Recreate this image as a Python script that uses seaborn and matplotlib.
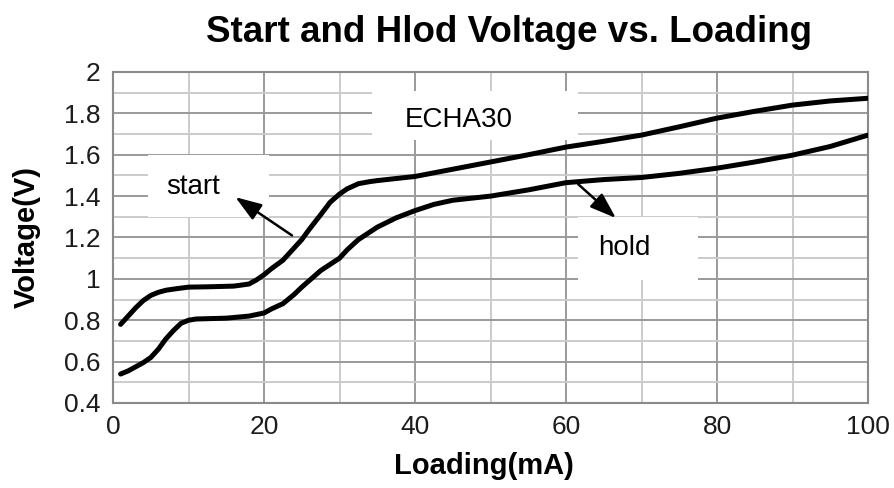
import numpy as np
import pandas as pd
import matplotlib
matplotlib.use("Agg")
import matplotlib.pyplot as plt
import seaborn as sns
from matplotlib.patches import Rectangle
from matplotlib.ticker import MultipleLocator

# ---------------- DATA ----------------
start_x = [1, 2, 3, 4, 5, 6, 7, 8.5, 10, 13, 16, 18, 19, 20, 21, 22.5, 24, 25,
           26, 27.5, 28.75, 30, 31, 32.5, 34, 35, 37.5, 40, 45, 50, 55, 60, 65,
           70, 75, 80, 85, 90, 95, 100]
start_v = [0.78, 0.82, 0.86, 0.895, 0.92, 0.935, 0.945, 0.953, 0.96, 0.962,
           0.965, 0.975, 0.995, 1.02, 1.05, 1.09, 1.15, 1.19, 1.24, 1.31, 1.37,
           1.41, 1.435, 1.46, 1.47, 1.475, 1.485, 1.495, 1.53, 1.565, 1.60,
           1.637, 1.665, 1.695, 1.735, 1.777, 1.81, 1.84, 1.86, 1.873]

hold_x = [1, 2, 3, 4, 5, 6, 7, 8, 9, 10, 11, 13, 15, 18, 20, 21, 22.5, 24, 25,
          27.5, 30, 31, 32.5, 35, 37.5, 40, 42.5, 45, 50, 55, 60, 65, 70, 75,
          80, 85, 90, 95, 100]
hold_v = [0.54, 0.555, 0.575, 0.595, 0.62, 0.66, 0.71, 0.75, 0.785, 0.80, 0.806,
          0.808, 0.81, 0.82, 0.835, 0.855, 0.88, 0.925, 0.96, 1.04, 1.10, 1.14,
          1.19, 1.25, 1.295, 1.33, 1.36, 1.38, 1.40, 1.43, 1.465, 1.48, 1.49,
          1.51, 1.535, 1.565, 1.598, 1.64, 1.695]

x_ticks = [0, 20, 40, 60, 80, 100]
y_ticks = [0.4, 0.6, 0.8, 1.0, 1.2, 1.4, 1.6, 1.8, 2.0]
y_tick_labels = ["0.4", "0.6", "0.8", "1", "1.2", "1.4", "1.6", "1.8", "2"]

df = pd.concat([
    pd.DataFrame({"Loading": start_x, "Voltage": start_v, "curve": "start"}),
    pd.DataFrame({"Loading": hold_x, "Voltage": hold_v, "curve": "hold"}),
])

# ---------------- STYLE ----------------
sns.set_style("white")
plt.rcParams["font.family"] = ["Liberation Sans", "DejaVu Sans"]
plt.rcParams["text.color"] = "black"
plt.rcParams["axes.labelcolor"] = "black"

fig = plt.figure(figsize=(8.95, 4.88), dpi=100)
ax = fig.add_axes([0.1263, 0.1742, 0.8436, 0.6783])

sns.lineplot(data=df, x="Loading", y="Voltage", units="curve", estimator=None,
             color="black", lw=3.6, sort=False, ax=ax, zorder=3,
             solid_joinstyle="round", solid_capstyle="round")

ax.set_xlim(0, 100)
ax.set_ylim(0.4, 2.0)
ax.set_xticks(x_ticks)
ax.set_yticks(y_ticks)
ax.set_yticklabels(y_tick_labels)
ax.xaxis.set_minor_locator(MultipleLocator(10))
ax.yaxis.set_minor_locator(MultipleLocator(0.1))
ax.set_axisbelow(True)
ax.grid(which="major", color="#9a9a9a", lw=1.4)
ax.grid(which="minor", color="#cbcbcb", lw=1.4)
ax.tick_params(which="both", length=0, labelsize=19, labelcolor="#1c1c1c")
ax.tick_params(axis="x", pad=9)
ax.tick_params(axis="y", pad=9)
for s in ax.spines.values():
    s.set_color("#8a8a8a")
    s.set_linewidth(1.5)

ax.set_xlabel("Loading(mA)", fontsize=21, fontweight="bold", color="black")
ax.set_ylabel("Voltage(V)", fontsize=21, fontweight="bold", color="black")
ax.xaxis.set_label_coords(0.491, -0.148)
ax.yaxis.set_label_coords(-0.096, 0.5)

fig.text(0.569, 0.914, "Start and Hlod Voltage vs. Loading", fontsize=26.5,
         fontweight="bold", ha="center", va="baseline", color="black")

# ---------------- LABEL BOXES ----------------
boxes = [(4.6, 1.30, 16.1, 0.30), (34.3, 1.67, 27.3, 0.24), (61.6, 0.994, 15.9, 0.305)]
for bx, by, bw, bh in boxes:
    ax.add_patch(Rectangle((bx, by), bw, bh, facecolor="white", edgecolor="none", zorder=1))

ax.text(7.1, 1.443, "start", fontsize=20, va="center", color="black", zorder=4)
ax.text(38.7, 1.767, "ECHA30", fontsize=20, va="center", color="black", zorder=4)
ax.text(64.2, 1.149, "hold", fontsize=20, va="center", color="black", zorder=4)

arrow = dict(arrowstyle="-|>,head_length=0.8,head_width=0.28", color="black",
             lw=1.8, mutation_scale=20, shrinkA=0, shrinkB=0)
ax.annotate("", xy=(16.2, 1.395), xytext=(23.7, 1.21), arrowprops=arrow, zorder=4)
ax.annotate("", xy=(66.6, 1.294), xytext=(61.6, 1.458), arrowprops=arrow, zorder=4)

fig.savefig("out.png", dpi=100)
